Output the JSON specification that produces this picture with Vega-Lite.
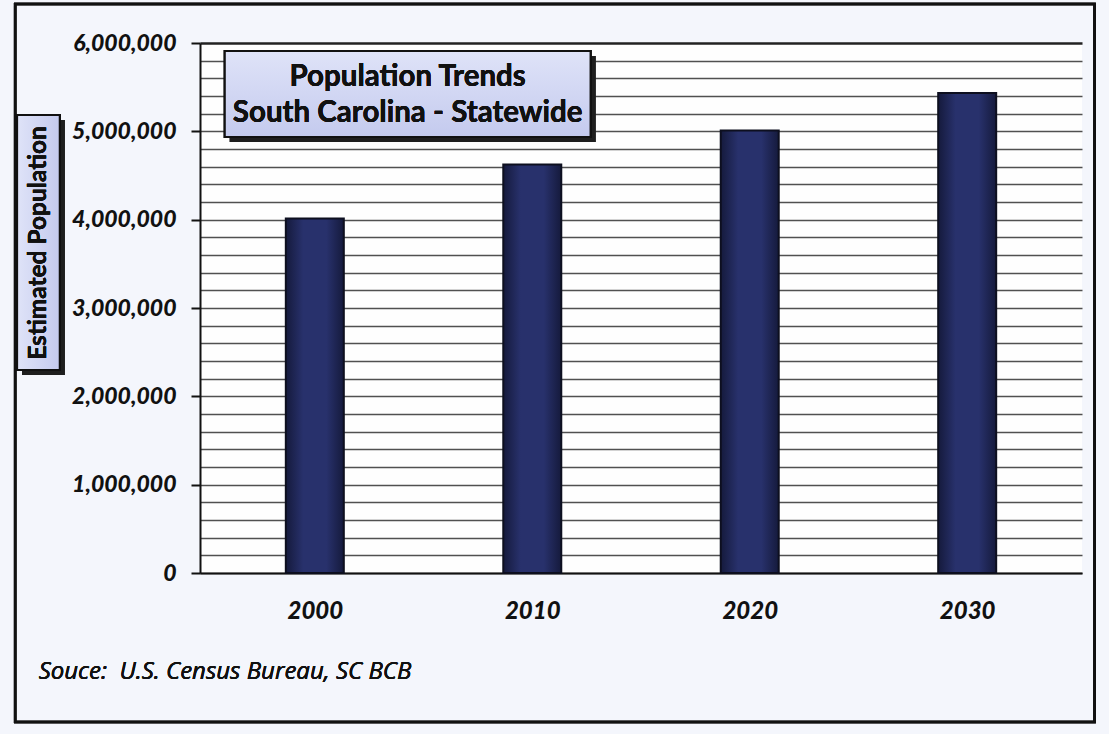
{
  "$schema": "https://vega.github.io/schema/vega-lite/v6.json",
  "width": 882,
  "height": 530,
  "autosize": {"type": "none"},
  "padding": {"left": 200, "top": 43, "right": 27, "bottom": 161},
  "background": "#f4f6fc",
  "config": {
    "view": {"stroke": null, "fill": "#fefefe"},
    "font": "Lato"
  },
  "data": {
    "values": [
      {"year": 2000, "population": 4012012},
      {"year": 2010, "population": 4625364},
      {"year": 2020, "population": 5010000},
      {"year": 2030, "population": 5434000}
    ]
  },
  "layer": [
    {
      "mark": {
        "type": "bar",
        "size": 58,
        "stroke": "#0d0f1f",
        "strokeWidth": 2,
        "fill": {
          "gradient": "linear",
          "x1": 0, "x2": 1, "y1": 0, "y2": 0,
          "stops": [
            {"offset": 0, "color": "#151a3c"},
            {"offset": 0.3, "color": "#28316c"},
            {"offset": 0.7, "color": "#28316c"},
            {"offset": 1, "color": "#151a3c"}
          ]
        }
      },
      "encoding": {
        "x": {
          "field": "year",
          "type": "quantitative",
          "title": null,
          "scale": {"domain": [1994.95, 2035.05], "nice": false, "zero": false},
          "axis": {
            "title": null,
            "values": [2000, 2010, 2020, 2030],
            "tickCount": 10,
            "format": "d",
            "grid": false,
            "ticks": false,
            "labelFont": "Lato",
            "labelFontSize": 24,
            "labelFontWeight": 900,
            "labelFontStyle": "italic",
            "labelColor": "#111111",
            "labelPadding": 26,
            "domainColor": "#111111",
            "domainWidth": 2
          }
        },
        "y": {
          "field": "population",
          "type": "quantitative",
          "title": null,
          "scale": {"domain": [0, 6000000], "nice": false},
          "axis": {
            "title": null,
            "values": [0, 200000, 400000, 600000, 800000, 1000000, 1200000, 1400000, 1600000, 1800000, 2000000, 2200000, 2400000, 2600000, 2800000, 3000000, 3200000, 3400000, 3600000, 3800000, 4000000, 4200000, 4400000, 4600000, 4800000, 5000000, 5200000, 5400000, 5600000, 5800000, 6000000],
            "tickCount": 40,
            "labelOverlap": false,
            "labelExpr": "datum.value % 1000000 === 0 ? format(datum.value, ',') : ''",
            "labelFont": "Lato",
            "labelFontSize": 23,
            "labelFontWeight": 900,
            "labelFontStyle": "italic",
            "labelColor": "#111111",
            "labelPadding": 15,
            "tickSize": 9,
            "tickColor": "#111111",
            "tickWidth": 2,
            "tickOpacity": {"condition": {"test": "datum.value % 1000000 === 0", "value": 1}, "value": 0},
            "grid": true,
            "gridColor": {"condition": {"test": "datum.value === 6000000", "value": "#222222"}, "value": "#505050"},
            "gridWidth": {"condition": {"test": "datum.value === 6000000", "value": 2.5}, "value": 1.5},
            "gridOpacity": 1,
            "domainColor": "#111111",
            "domainWidth": 2
          }
        }
      }
    },
    {
      "mark": {"type": "rect", "fill": "#1e1e1e", "opacity": 0.85},
      "encoding": {
        "x": {"datum": 1996.09, "type": "quantitative", "title": null},
        "x2": {"datum": 2012.91},
        "y": {"datum": 5852830, "type": "quantitative", "title": null},
        "y2": {"datum": 4879243}
      }
    },
    {
      "mark": {
        "type": "rect",
        "stroke": "#111111",
        "strokeWidth": 2,
        "fill": {
          "gradient": "linear",
          "x1": 0, "x2": 0, "y1": 0, "y2": 1,
          "stops": [
            {"offset": 0, "color": "#dfe3f8"},
            {"offset": 1, "color": "#c4caee"}
          ]
        }
      },
      "encoding": {
        "x": {"datum": 1995.86, "type": "quantitative", "title": null},
        "x2": {"datum": 2012.68},
        "y": {"datum": 5909432, "type": "quantitative", "title": null},
        "y2": {"datum": 4935847}
      }
    },
    {
      "mark": {"type": "text", "text": "Population Trends", "font": "Lato", "fontSize": 29.5, "fontWeight": "bold", "color": "#111111", "align": "center", "baseline": "middle"},
      "encoding": {
        "x": {"datum": 2004.27, "type": "quantitative", "title": null},
        "y": {"datum": 5615092, "type": "quantitative", "title": null}
      }
    },
    {
      "mark": {"type": "text", "text": "South Carolina - Statewide", "font": "Lato", "fontSize": 29.5, "fontWeight": "bold", "color": "#111111", "align": "center", "baseline": "middle"},
      "encoding": {
        "x": {"datum": 2004.27, "type": "quantitative", "title": null},
        "y": {"datum": 5207545, "type": "quantitative", "title": null}
      }
    },
    {
      "mark": {"type": "rect", "fill": "#1e1e1e", "opacity": 0.85},
      "encoding": {
        "x": {"datum": 1986.54, "type": "quantitative", "title": null},
        "x2": {"datum": 1988.5},
        "y": {"datum": 5128300, "type": "quantitative", "title": null},
        "y2": {"datum": 2241509}
      }
    },
    {
      "mark": {
        "type": "rect",
        "stroke": "#111111",
        "strokeWidth": 2,
        "fill": {
          "gradient": "linear",
          "x1": 0, "x2": 1, "y1": 0, "y2": 0,
          "stops": [
            {"offset": 0, "color": "#dfe3f8"},
            {"offset": 1, "color": "#c4caee"}
          ]
        }
      },
      "encoding": {
        "x": {"datum": 1986.31, "type": "quantitative", "title": null},
        "x2": {"datum": 1988.27},
        "y": {"datum": 5184904, "type": "quantitative", "title": null},
        "y2": {"datum": 2298113}
      }
    },
    {
      "mark": {"type": "text", "text": "Estimated Population", "font": "Lato", "fontSize": 24.5, "fontWeight": "bold", "color": "#111111", "align": "center", "baseline": "middle", "angle": 270},
      "encoding": {
        "x": {"datum": 1987.31, "type": "quantitative", "title": null},
        "y": {"datum": 3735849, "type": "quantitative", "title": null}
      }
    },
    {
      "mark": {"type": "text", "text": "Souce:\u00a0\u00a0U.S. Census Bureau, SC BCB", "font": "Open Sans", "fontSize": 24, "fontWeight": "normal", "fontStyle": "italic", "color": "#111111", "align": "left", "baseline": "middle"},
      "encoding": {
        "x": {"datum": 1987.3, "type": "quantitative", "title": null},
        "y": {"datum": -1120755, "type": "quantitative", "title": null}
      }
    },
    {
      "mark": {"type": "rect", "fillOpacity": 0, "fill": "#ffffff", "stroke": "#111111", "strokeWidth": 2.5},
      "encoding": {
        "x": {"datum": 1986.22, "type": "quantitative", "title": null},
        "x2": {"datum": 2035.86},
        "y": {"datum": 6441507, "type": "quantitative", "title": null},
        "y2": {"datum": -1686792}
      }
    }
  ]
}
